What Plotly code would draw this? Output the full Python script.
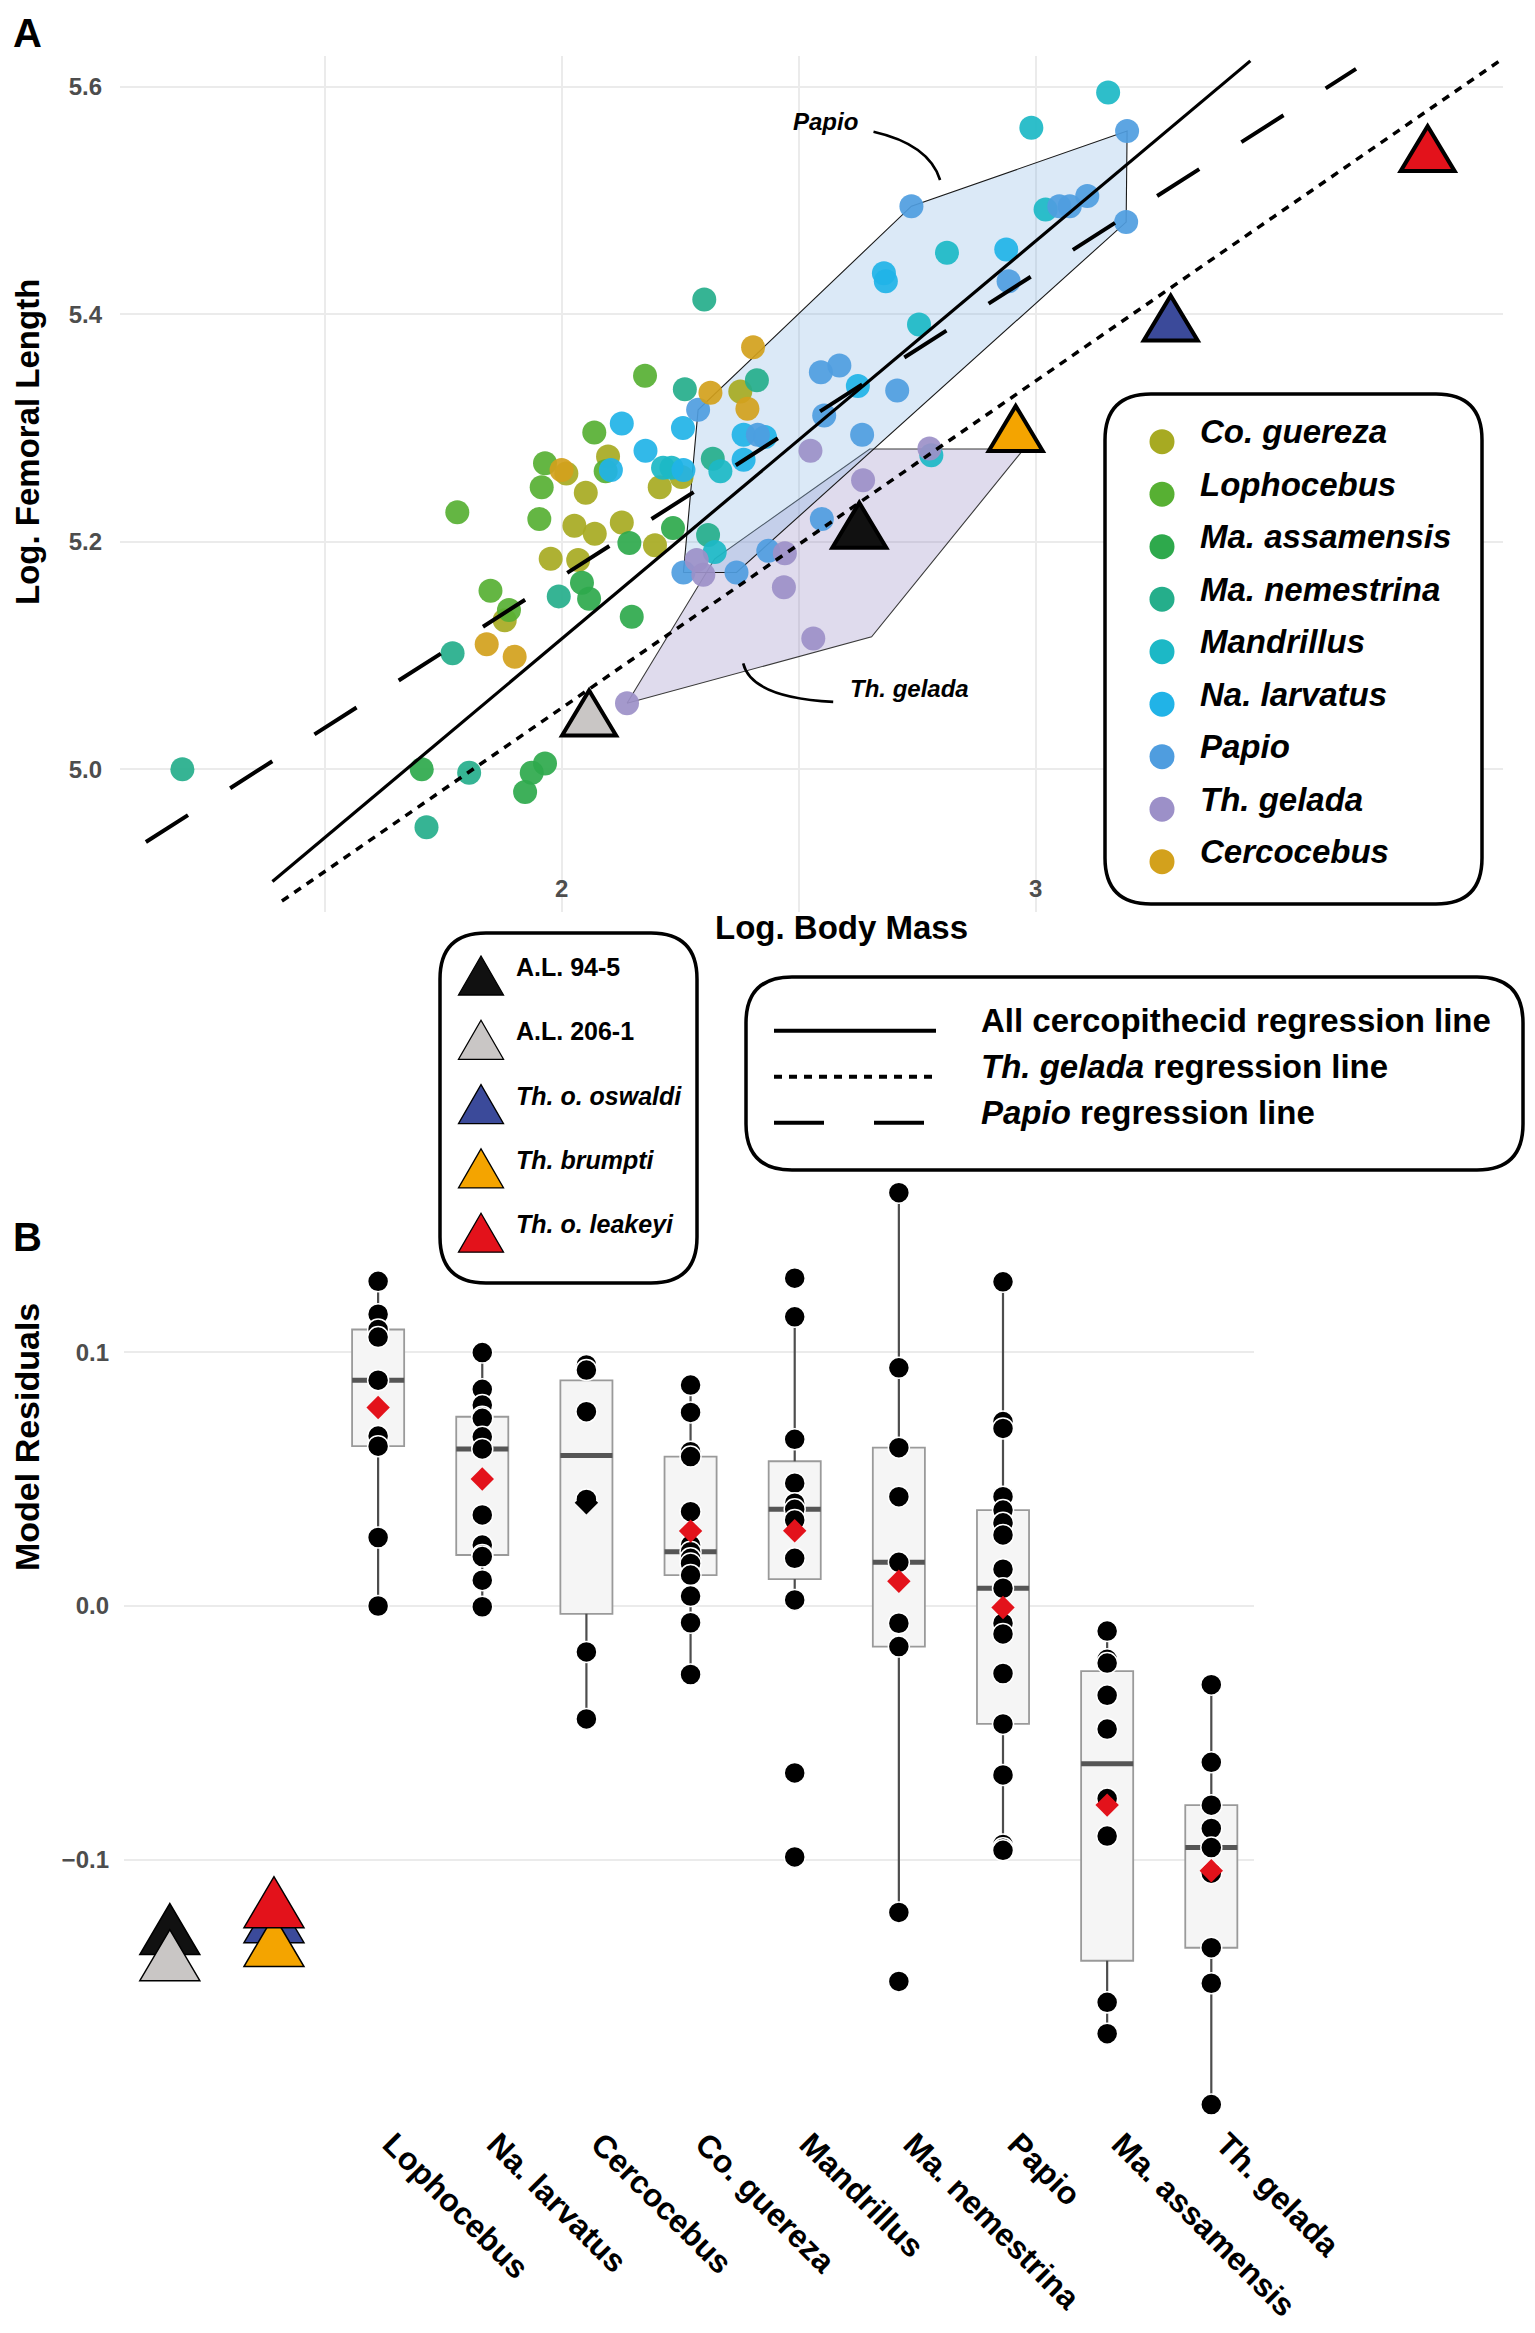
import numpy as np
import plotly.graph_objects as go

# page is 1535 x 2333; the HTML body has an 8px margin, so the figure is made 16px smaller
OFF = 8
FW, FH = 1535 - 2 * OFF, 2333 - 2 * OFF
FONT = "Liberation Sans, Arial, Helvetica, sans-serif"
GRID = "#ebebeb"
TICKC = "#4d4d4d"

# ---------------- Panel A data: Log. Body Mass vs Log. Femoral Length ----------------
species = ["Co. guereza", "Lophocebus", "Ma. assamensis", "Ma. nemestrina", "Mandrillus",
           "Na. larvatus", "Papio", "Th. gelada", "Cercocebus"]
species_colors = ["#a7aa22", "#57b033", "#2ea94c", "#25ae8b", "#1cb8c6",
                  "#21b3e7", "#4f9ddf", "#9c90c8", "#d3a11c"]

guereza_mass = [1.880, 2.010, 2.051, 2.027, 2.070, 1.977, 2.035, 2.098, 2.127, 2.197, 2.207, 2.253, 2.377]
guereza_femur = [5.131, 5.260, 5.243, 5.214, 5.207, 5.185, 5.184, 5.275, 5.217, 5.197, 5.248, 5.257, 5.332]
lophocebus_mass = [1.780, 1.850, 1.889, 1.965, 1.958, 1.953, 2.069, 2.093, 2.176]
lophocebus_femur = [5.226, 5.157, 5.140, 5.269, 5.248, 5.220, 5.296, 5.262, 5.346]
assamensis_mass = [1.705, 1.965, 1.937, 1.923, 2.043, 2.058, 2.143, 2.235, 2.148]
assamensis_femur = [5.000, 5.005, 4.997, 4.980, 5.164, 5.150, 5.199, 5.212, 5.134]
nemestrina_mass = [1.200, 1.770, 1.805, 1.715, 1.994, 2.301, 2.260, 2.412, 2.319, 2.309]
nemestrina_femur = [5.000, 5.102, 4.997, 4.949, 5.152, 5.413, 5.334, 5.342, 5.273, 5.206]
mandrillus_mass = [2.214, 2.232, 2.335, 2.323, 2.780, 2.813, 2.754, 3.021, 2.991, 3.153]
mandrillus_femur = [5.265, 5.265, 5.262, 5.191, 5.276, 5.454, 5.391, 5.492, 5.564, 5.595]
larvatus_mass = [2.127, 2.256, 2.177, 2.257, 2.384, 2.384, 2.625, 2.938, 2.680, 2.684, 2.104, 2.429]
larvatus_femur = [5.304, 5.300, 5.280, 5.263, 5.294, 5.272, 5.337, 5.457, 5.436, 5.429, 5.263, 5.292]
papio_mass = [2.288, 2.414, 2.547, 2.586, 2.708, 2.554, 2.634, 2.738, 2.943, 3.050, 3.072, 3.109,
              3.193, 3.191, 2.257, 2.369, 2.436, 2.549]
papio_femur = [5.316, 5.294, 5.349, 5.355, 5.333, 5.311, 5.294, 5.495, 5.429, 5.495, 5.495, 5.504,
               5.561, 5.481, 5.173, 5.173, 5.192, 5.220]
gelada_mass = [2.525, 2.776, 2.636, 2.285, 2.299, 2.471, 2.469, 2.531, 2.138]
gelada_femur = [5.280, 5.282, 5.254, 5.184, 5.171, 5.190, 5.160, 5.115, 5.058]
cercocebus_mass = [1.842, 1.901, 2.000, 2.314, 2.404, 2.392]
cercocebus_femur = [5.110, 5.099, 5.263, 5.331, 5.371, 5.317]

masses = [guereza_mass, lophocebus_mass, assamensis_mass, nemestrina_mass, mandrillus_mass,
          larvatus_mass, papio_mass, gelada_mass, cercocebus_mass]
femurs = [guereza_femur, lophocebus_femur, assamensis_femur, nemestrina_femur, mandrillus_femur,
          larvatus_femur, papio_femur, gelada_femur, cercocebus_femur]

# group outlines (as drawn in the figure)
papio_hull_mass = [2.257, 2.288, 2.738, 3.193, 3.191, 2.369]
papio_hull_femur = [5.173, 5.316, 5.495, 5.561, 5.481, 5.173]
gelada_hull_mass = [2.138, 2.323, 2.650, 2.975, 2.654]
gelada_hull_femur = [5.058, 5.185, 5.2815, 5.2815, 5.1165]

# fossils
fossil_names = ["A.L. 94-5", "A.L. 206-1", "Th. o. oswaldi", "Th. brumpti", "Th. o. leakeyi"]
fossil_italic = [False, False, True, True, True]
fossil_colors = ["#111111", "#c9c6c5", "#3b4a9a", "#f4a400", "#e3121b"]
fossil_mass = [2.628, 2.058, 3.285, 2.958, 3.827]
fossil_femur = [5.208, 5.043, 5.390, 5.293, 5.539]

# regression lines: value at log body mass = 2, slope, drawn extent
reg_names = ["All cercopithecid", "Th. gelada", "Papio"]
reg_at2 = [5.1146, 5.0538, 5.1695]
reg_slope = [0.3497, 0.2875, 0.2662]
reg_xmin = [1.390, 1.410, 1.123]
reg_xmax = [3.453, 3.979, 3.676]
reg_dash = ["solid", "8px,7px", "50px,50px"]
reg_width = [3.2, 3.5, 4.0]

# ---------------- Panel B data: model residuals ----------------
categories = ["Lophocebus", "Na. larvatus", "Cercocebus", "Co. guereza", "Mandrillus",
              "Ma. nemestrina", "Papio", "Ma. assamensis", "Th. gelada"]
resid_lophocebus = [0.128, 0.115, 0.109, 0.106, 0.089, 0.067, 0.063, 0.027, 0.000]
resid_larvatus = [0.0999, 0.0854, 0.0792, 0.0746, 0.0740, 0.0667, 0.0619, 0.0359, 0.0240, 0.0201,
                  0.0195, 0.0102, -0.0003]
resid_cercocebus = [0.095, 0.093, 0.0766, 0.042, -0.0181, -0.0445]
resid_guereza = [0.0871, 0.0763, 0.0608, 0.0589, 0.0372, 0.0240, 0.0214, 0.0188, 0.0168, 0.0122,
                 0.0039, -0.0066, -0.0270]
resid_mandrillus = [0.1292, 0.1140, 0.0657, 0.0484, 0.0405, 0.0381, 0.0339, 0.0188, 0.0024,
                    -0.0658, -0.0989]
resid_nemestrina = [0.1629, 0.0939, 0.0624, 0.0431, 0.0172, -0.0068, -0.0160, -0.1208, -0.1480]
resid_papio = [0.1278, 0.0727, 0.0700, 0.0431, 0.0378, 0.0328, 0.0280, 0.0145, 0.0070, -0.0068,
               -0.0110, -0.0266, -0.0465, -0.0666, -0.0940, -0.0955, -0.0963]
resid_assamensis = [-0.0099, -0.0210, -0.0225, -0.0352, -0.0485, -0.0759, -0.0907, -0.1562,
                    -0.1562, -0.1686]
resid_gelada = [-0.0310, -0.0616, -0.0785, -0.0877, -0.0952, -0.1053, -0.1347, -0.1487, -0.1965]
residuals = [resid_lophocebus, resid_larvatus, resid_cercocebus, resid_guereza, resid_mandrillus,
             resid_nemestrina, resid_papio, resid_assamensis, resid_gelada]
mean_colors = ["#e3121b", "#e3121b", "#000000", "#e3121b", "#e3121b", "#e3121b", "#e3121b",
               "#e3121b", "#e3121b"]

fossil_resid = [-0.1307, -0.1410, -0.1260, -0.1354, -0.1201]
fossil_slot = [0, 0, 1, 1, 1]
cat_slot = list(range(2, 2 + len(categories)))


def px(x):
    """page pixel x -> paper fraction"""
    return (x - OFF) / FW


def py(y):
    """page pixel y -> paper fraction"""
    return 1 - (y - OFF) / FH


def tri_path(w, h):
    """triangle centred on its centroid, pixel offsets (y up)"""
    return f"M{-w/2},{-h/3} L{w/2},{-h/3} L0,{2*h/3} Z"


fig = go.Figure()

# ---- Panel A ----
fig.add_trace(go.Scatter(x=gelada_hull_mass + gelada_hull_mass[:1],
                         y=gelada_hull_femur + gelada_hull_femur[:1],
                         mode="lines", fill="toself", fillcolor="rgba(140,125,190,0.28)",
                         line=dict(color="#3a3a3a", width=1.1), hoverinfo="skip",
                         showlegend=False, xaxis="x", yaxis="y"))
fig.add_trace(go.Scatter(x=papio_hull_mass + papio_hull_mass[:1],
                         y=papio_hull_femur + papio_hull_femur[:1],
                         mode="lines", fill="toself", fillcolor="rgba(125,175,225,0.28)",
                         line=dict(color="#1a1a1a", width=1.1), hoverinfo="skip",
                         showlegend=False, xaxis="x", yaxis="y"))

for name, col, xs, ys in zip(species, species_colors, masses, femurs):
    fig.add_trace(go.Scatter(x=xs, y=ys, mode="markers", name=name,
                             marker=dict(size=24, color=col, opacity=0.92, line=dict(width=0)),
                             showlegend=False, cliponaxis=False, xaxis="x", yaxis="y"))

for a2, b, x0, x1, d, w in zip(reg_at2, reg_slope, reg_xmin, reg_xmax, reg_dash, reg_width):
    xs = np.array([x0, x1])
    fig.add_trace(go.Scatter(x=xs, y=a2 + b * (xs - 2), mode="lines",
                             line=dict(color="black", width=w, dash=d),
                             showlegend=False, hoverinfo="skip", xaxis="x", yaxis="y"))

# ---- Panel B ----
q1s, meds, q3s, los, his, means = [], [], [], [], [], []
for vals in residuals:
    v = np.array(vals)
    q1, med, q3 = np.percentile(v, [25, 50, 75])
    iqr = q3 - q1
    lo = v[v >= q1 - 1.5 * iqr].min()
    hi = v[v <= q3 + 1.5 * iqr].max()
    q1s.append(q1); meds.append(med); q3s.append(q3); los.append(lo); his.append(hi)
    means.append(v.mean())

fig.add_trace(go.Box(x=cat_slot, q1=q1s, median=meds, q3=q3s, lowerfence=q1s, upperfence=q3s,
                     width=0.5, whiskerwidth=0, fillcolor="#f5f5f5",
                     line=dict(color="#9a9a9a", width=1.8), boxpoints=False,
                     showlegend=False, hoverinfo="skip", xaxis="x2", yaxis="y2"))

wx, wy = [], []
for s, q1, q3, lo, hi in zip(cat_slot, q1s, q3s, los, his):
    wx += [s, s, None, s, s, None]
    wy += [lo, q1, None, q3, hi, None]
fig.add_trace(go.Scatter(x=wx, y=wy, mode="lines", line=dict(color="#4d4d4d", width=2.2),
                         showlegend=False, hoverinfo="skip", xaxis="x2", yaxis="y2"))

mx, my = [], []
for s, m in zip(cat_slot, meds):
    mx += [s - 0.25, s + 0.25, None]
    my += [m, m, None]
fig.add_trace(go.Scatter(x=mx, y=my, mode="lines", line=dict(color="#555555", width=5),
                         showlegend=False, hoverinfo="skip", xaxis="x2", yaxis="y2"))

pxs, pys = [], []
for s, vals in zip(cat_slot, residuals):
    pxs += [s] * len(vals)
    pys += vals
fig.add_trace(go.Scatter(x=pxs, y=pys, mode="markers",
                         marker=dict(size=21, color="black", line=dict(color="white", width=1.5)),
                         showlegend=False, cliponaxis=False, xaxis="x2", yaxis="y2"))

fig.add_trace(go.Scatter(x=cat_slot, y=means, mode="markers",
                         marker=dict(symbol="diamond", size=18, color=mean_colors, line=dict(width=0)),
                         showlegend=False, cliponaxis=False, xaxis="x2", yaxis="y2"))

# ---------------- shapes & annotations ----------------
shapes = []
ann = []

# fossil triangles (data-anchored, pixel-sized so they keep the figure's proportions)
for m, f, col in zip(fossil_mass, fossil_femur, fossil_colors):
    shapes.append(dict(type="path", xref="x", yref="y", xsizemode="pixel", ysizemode="pixel",
                       xanchor=m, yanchor=f, path=tri_path(54, 45), fillcolor=col,
                       line=dict(color="black", width=4), layer="above"))
for s, r, col in zip(fossil_slot, fossil_resid, fossil_colors):
    shapes.append(dict(type="path", xref="x2", yref="y2", xsizemode="pixel", ysizemode="pixel",
                       xanchor=s, yanchor=r, path=tri_path(60, 51), fillcolor=col,
                       line=dict(color="black", width=1.5), layer="above"))


def rrect(x0, y0, x1, y1, r):
    X0, X1 = px(x0), px(x1)
    Y0, Y1 = py(y0), py(y1)
    rx, ry = r / FW, r / FH
    return (f"M{X0+rx},{Y0} L{X1-rx},{Y0} Q{X1},{Y0} {X1},{Y0-ry} L{X1},{Y1+ry} "
            f"Q{X1},{Y1} {X1-rx},{Y1} L{X0+rx},{Y1} Q{X0},{Y1} {X0},{Y1+ry} "
            f"L{X0},{Y0-ry} Q{X0},{Y0} {X0+rx},{Y0} Z")


for box in [(1105, 394, 1482, 904), (440, 933, 697, 1283), (746, 977, 1523, 1170)]:
    shapes.append(dict(type="path", xref="paper", yref="paper", path=rrect(*box, 46),
                       fillcolor="white", line=dict(color="black", width=3.5), layer="above"))

# species legend
for i, (name, col) in enumerate(zip(species, species_colors)):
    cy = 441.7 + i * 52.5
    shapes.append(dict(type="circle", xref="paper", yref="paper",
                       x0=px(1162 - 12.5), x1=px(1162 + 12.5), y0=py(cy + 12.5), y1=py(cy - 12.5),
                       fillcolor=col, line=dict(width=0), layer="above"))
    ann.append(dict(x=px(1198), y=py(cy - 10), xref="paper", yref="paper", xanchor="left",
                    yanchor="middle", showarrow=False, text=f"<b><i>{name}</i></b>",
                    font=dict(family=FONT, size=33, color="black")))

# fossil legend
for i, (name, col, it) in enumerate(zip(fossil_names, fossil_colors, fossil_italic)):
    cy = 982 + i * 64.3
    cx = 481
    apex, base = cy - 26, cy + 13
    path = (f"M{px(cx-22.5)},{py(base)} L{px(cx+22.5)},{py(base)} L{px(cx)},{py(apex)} Z")
    shapes.append(dict(type="path", xref="paper", yref="paper", path=path, fillcolor=col,
                       line=dict(color="black", width=1.3), layer="above"))
    label = f"<b><i>{name}</i></b>" if it else f"<b>{name}</b>"
    ann.append(dict(x=px(514), y=py(cy - 15), xref="paper", yref="paper", xanchor="left",
                    yanchor="middle", showarrow=False, text=label,
                    font=dict(family=FONT, size=25, color="black")))

# regression line legend
reg_labels = ["<b>All cercopithecid regression line</b>",
              "<b><i>Th. gelada</i> regression line</b>",
              "<b><i>Papio</i> regression line</b>"]
for i, (lab, d) in enumerate(zip(reg_labels, reg_dash)):
    ly = 1030.7 + i * 46
    shapes.append(dict(type="line", xref="paper", yref="paper", x0=px(774), x1=px(936),
                       y0=py(ly), y1=py(ly), line=dict(color="black", width=4, dash=d),
                       layer="above"))
    ann.append(dict(x=px(979), y=py(ly - 10), xref="paper", yref="paper", xanchor="left",
                    yanchor="middle", showarrow=False, text=lab,
                    font=dict(family=FONT, size=33, color="black")))

# group callouts in panel A
shapes.append(dict(type="path", xref="x", yref="y",
                   path="M2.658,5.5604 Q2.775,5.5494 2.7985,5.518",
                   line=dict(color="black", width=2.6), layer="above"))
shapes.append(dict(type="path", xref="x", yref="y",
                   path="M2.3831,5.0931 Q2.4008,5.063 2.573,5.0593",
                   line=dict(color="black", width=2.6), layer="above"))
ann.append(dict(x=2.5576, y=5.5692, xref="x", yref="y", showarrow=False, xanchor="center",
                yanchor="middle", text="<b><i>Papio</i></b>",
                font=dict(family=FONT, size=24, color="black")))
ann.append(dict(x=2.7348, y=5.0711, xref="x", yref="y", showarrow=False, xanchor="center",
                yanchor="middle", text="<b><i>Th. gelada</i></b>",
                font=dict(family=FONT, size=24, color="black")))

# x tick labels of panel A
for v in [2, 3]:
    ann.append(dict(x=v, y=py(888), xref="x", yref="paper", showarrow=False, xanchor="center",
                    yanchor="middle", text=f"<b>{v}</b>",
                    font=dict(family=FONT, size=24, color=TICKC)))


def label(x, y, text, size, angle=0):
    return dict(x=px(x), y=py(y), xref="paper", yref="paper", showarrow=False,
                xanchor="center", yanchor="middle", textangle=angle, text=text,
                font=dict(family=FONT, size=size, color="black"))


ann += [
    label(27, 33, "<b>A</b>", 40),
    label(27, 1237, "<b>B</b>", 40),
    label(27, 442, "<b>Log. Femoral Length</b>", 33, -90),
    label(842, 927, "<b>Log. Body Mass</b>", 33),
    label(27, 1437, "<b>Model Residuals</b>", 34, -90),
]

tickfont = dict(family=FONT, size=24, color=TICKC, weight="bold")

fig.update_layout(
    width=FW, height=FH, autosize=False,
    margin=dict(l=0, r=0, t=0, b=0),
    paper_bgcolor="white", plot_bgcolor="rgba(0,0,0,0)",
    showlegend=False,
    font=dict(family=FONT),
    shapes=shapes, annotations=ann,
    xaxis=dict(domain=[px(120), px(1503)], range=[1.0684, 3.986], tickvals=[1.5, 2, 2.5, 3],
               showticklabels=False, ticks="", showgrid=True, gridcolor=GRID, gridwidth=1.5,
               zeroline=False, showline=False, anchor="y", automargin=False),
    yaxis=dict(domain=[py(911.5), py(56)], range=[4.875, 5.627], tickvals=[5.0, 5.2, 5.4, 5.6],
               ticktext=["5.0", "5.2", "5.4", "5.6"], tickfont=tickfont, ticks="",
               ticklabelstandoff=17, showgrid=True, gridcolor=GRID, gridwidth=1.5,
               zeroline=False, showline=False, anchor="x", automargin=False),
    xaxis2=dict(domain=[px(124), px(1254)], range=[-0.44, 10.41], tickvals=cat_slot,
                ticktext=categories, tickangle=45,
                tickfont=dict(family=FONT, size=32, color="black", weight="bold"),
                ticklabelshift=14, ticklabelstandoff=6,
                ticks="", showgrid=False, zeroline=False, showline=False, anchor="y2",
                automargin=False),
    yaxis2=dict(domain=[py(2112), py(1175)], range=[-0.19945, 0.16989],
                tickvals=[-0.1, 0.0, 0.1], ticktext=["\u22120.1", "0.0", "0.1"],
                tickfont=tickfont, ticks="", ticklabelstandoff=14, showgrid=True,
                gridcolor=GRID, gridwidth=1.5, zeroline=False, showline=False, anchor="x2",
                automargin=False),
)

fig.write_html("out.html")
